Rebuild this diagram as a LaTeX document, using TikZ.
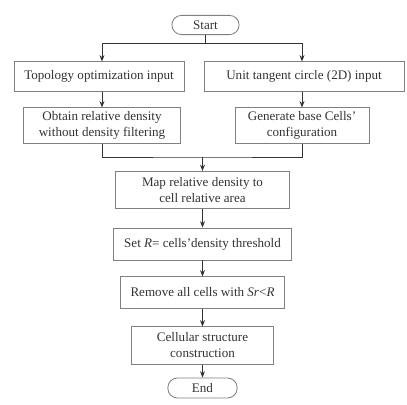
\documentclass[tikz,border=0pt]{standalone}
\usepackage{fontspec}
\setmainfont{Liberation Serif}
\usetikzlibrary{arrows.meta}
\definecolor{boxgray}{HTML}{808080}
\definecolor{inkgray}{HTML}{333333}
\begin{document}
\begin{tikzpicture}[x=0.025cm, y=-0.025cm,
    every node/.style={font=\fontsize{9.3}{11.4}\selectfont, text=inkgray, align=center, inner sep=0pt},
    stepbox/.style={draw=boxgray, line width=0.6pt, rectangle},
    termbox/.style={draw=boxgray, line width=0.6pt, rectangle, rounded corners=0.24cm},
    arr/.style={draw=inkgray, line width=0.7pt, -{Stealth[length=4.5pt, width=3.5pt]}},
    link/.style={draw=inkgray, line width=0.7pt}]
            \useasboundingbox (0,0) rectangle (407,405);
            \node[termbox, minimum width=1.68cm, minimum height=0.48cm] (start) at (205.5, 25) {Start};
            \node[stepbox, minimum width=4.25cm, minimum height=0.73cm] (topo) at (99, 76.5) {Topology optimization input};
            \node[stepbox, minimum width=5.0cm, minimum height=0.73cm] (unit) at (304, 76.5) {Unit tangent circle (2D) input};
            \node[stepbox, minimum width=3.93cm, minimum height=0.88cm] (obtain) at (102, 125.5) {Obtain relative density\\without density filtering};
            \node[stepbox, minimum width=3.35cm, minimum height=0.88cm] (gen) at (302, 125.5) {Generate base Cells'\\configuration};
            \node[stepbox, minimum width=4.33cm, minimum height=0.93cm] (map) at (202.5, 190) {Map relative density to\\cell relative area};
            \node[stepbox, minimum width=4.43cm, minimum height=0.8cm] (setr) at (202.5, 244) {Set \textit{R}= cells'density threshold};
            \node[stepbox, minimum width=4.08cm, minimum height=0.78cm] (remove) at (202.5, 292.5) {Remove all cells with \textit{Sr}<\textit{R}};
            \node[stepbox, minimum width=3.53cm, minimum height=0.93cm] (cell) at (202.5, 345.5) {Cellular structure\\construction};
            \node[termbox, minimum width=1.73cm, minimum height=0.5cm] (end) at (202.5, 388) {End};
            \coordinate (split) at (205.5, 43);
            \coordinate (merge) at (202.5, 157);
            \draw[link] (start) -- (split);
            \draw[arr] (split) -| (topo.north -| obtain.north);
            \draw[arr] (split) -| (unit.north -| gen.north);
            \draw[arr] (topo.south -| obtain.north) -- (obtain);
            \draw[arr] (unit.south -| gen.north) -- (gen);
            \draw[link] (obtain) |- (merge) -| (gen);
            \draw[arr] (merge) -- (map);
            \draw[arr] (map) -- (setr);
            \draw[arr] (setr) -- (remove);
            \draw[arr] (remove) -- (cell);
            \draw[arr] (cell) -- (end);
        \end{tikzpicture}
\end{document}
